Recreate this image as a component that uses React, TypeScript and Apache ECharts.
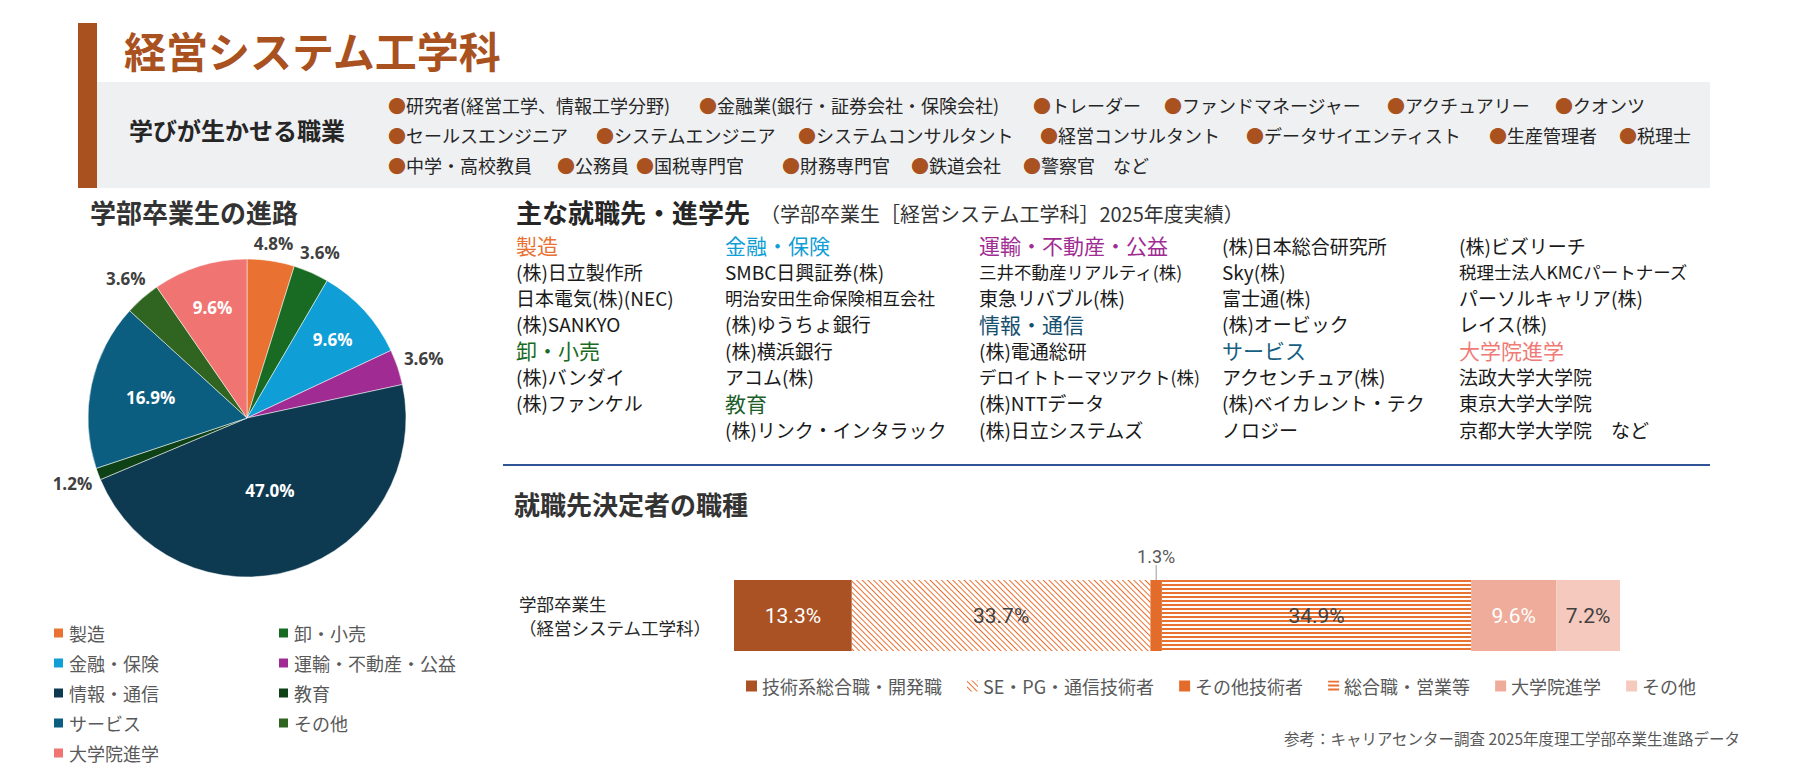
import React, { useEffect, useRef } from 'react';
import * as echarts from 'echarts';

const JP = "'Noto Sans CJK JP', sans-serif";
const NUM = "'Liberation Sans Narrow', Roboto, sans-serif";

// header
const deptTitle = '経営システム工学科';
const occLabel = '学びが生かせる職業';
const occRow1 = ['研究者(経営工学、情報工学分野)', '金融業(銀行・証券会社・保険会社)', 'トレーダー', 'ファンドマネージャー', 'アクチュアリー', 'クオンツ'];
const occRow2 = ['セールスエンジニア', 'システムエンジニア', 'システムコンサルタント', '経営コンサルタント', 'データサイエンティスト', '生産管理者', '税理士'];
const occRow3 = ['中学・高校教員', '公務員', '国税専門官', '財務専門官', '鉄道会社', '警察官　など'];

// pie: 学部卒業生の進路 (clockwise from top)
const pieNames = ['製造', '卸・小売', '金融・保険', '運輸・不動産・公益', '情報・通信', '教育', 'サービス', 'その他', '大学院進学'];
const pieValues = [4.8, 3.6, 9.6, 3.6, 47.0, 1.2, 16.9, 3.6, 9.6];
const pieColors = ['#E97132', '#196B24', '#0F9ED5', '#A02B93', '#0E3A51', '#0F4116', '#0B5E80', '#2F6520', '#F07572'];
const pieLegendLeft = ['製造', '金融・保険', '情報・通信', 'サービス', '大学院進学'];
const pieLegendRight = ['卸・小売', '運輸・不動産・公益', '教育', 'その他'];

// company lists
const col1 = ['製造', '(株)日立製作所', '日本電気(株)(NEC)', '(株)SANKYO', '卸・小売', '(株)バンダイ', '(株)ファンケル'];
const col2 = ['金融・保険', 'SMBC日興証券(株)', '明治安田生命保険相互会社', '(株)ゆうちょ銀行', '(株)横浜銀行', 'アコム(株)', '教育', '(株)リンク・インタラック'];
const col3 = ['運輸・不動産・公益', '三井不動産リアルティ(株)', '東急リバブル(株)', '情報・通信', '(株)電通総研', 'デロイトトーマツアクト(株)', '(株)NTTデータ', '(株)日立システムズ'];
const col4 = ['(株)日本総合研究所', 'Sky(株)', '富士通(株)', '(株)オービック', 'サービス', 'アクセンチュア(株)', '(株)ベイカレント・テク', 'ノロジー'];
const col5 = ['(株)ビズリーチ', '税理士法人KMCパートナーズ', 'パーソルキャリア(株)', 'レイス(株)', '大学院進学', '法政大学大学院', '東京大学大学院', '京都大学大学院　など'];
const headColors: Record<string, string> = {
  '製造': '#E97132', '卸・小売': '#196B24', '金融・保険': '#0F9ED5', '教育': '#215E2A',
  '運輸・不動産・公益': '#A02B93', '情報・通信': '#17506E', 'サービス': '#156082', '大学院進学': '#F07A76',
};
const smallItems = ['明治安田生命保険相互会社', '三井不動産リアルティ(株)', 'デロイトトーマツアクト(株)', '税理士法人KMCパートナーズ'];

// bar: 就職先決定者の職種
const barCategory = ['学部卒業生\n（経営システム工学科）'];
const barNames = ['技術系総合職・開発職', 'SE・PG・通信技術者', 'その他技術者', '総合職・営業等', '大学院進学#bar', 'その他#bar'];
const barValues = [13.3, 33.7, 1.3, 34.9, 9.6, 7.2];

const sourceNote = '参考：キャリアセンター調査 2025年度理工学部卒業生進路データ';

// layout
const CX = 247, CY = 418, R = 159;
const occX = [[388, 699, 1033, 1164, 1387, 1555], [388, 596, 798, 1040, 1246, 1489, 1619], [388, 557, 636, 782, 911, 1023]];
const occY = [105, 135, 165];
const colX = [516, 725, 979, 1222, 1459];

export default function App() {
  const ref = useRef<HTMLDivElement>(null);

  useEffect(() => {
    if (!ref.current) return;
    document.body.style.margin = '0';
    const chart = echarts.init(ref.current, null, { renderer: 'svg' });

    const total = pieValues.reduce((a, b) => a + b, 0);
    let cum = 0;
    const mid = pieValues.map((v) => {
      const m = ((cum + v / 2) / total) * Math.PI * 2;
      cum += v;
      return m;
    });

    const graphics: any[] = [
      { type: 'rect', shape: { x: 97, y: 82, width: 1613, height: 106 }, style: { fill: '#EFF0F2' } },
      { type: 'rect', shape: { x: 78, y: 23, width: 19, height: 165 }, style: { fill: '#A9521F' } },
      { type: 'text', x: 124, y: 49, style: { text: deptTitle, fill: '#A9521F', fontSize: 42, fontWeight: 'bold', fontFamily: JP, verticalAlign: 'middle' } },
      { type: 'text', x: 129, y: 129, style: { text: occLabel, fill: '#262626', fontSize: 24, fontWeight: 'bold', fontFamily: JP, verticalAlign: 'middle' } },
      { type: 'text', x: 90, y: 211, style: { text: '学部卒業生の進路', fill: '#333', fontSize: 26, fontWeight: 'bold', fontFamily: JP, verticalAlign: 'middle' } },
      { type: 'text', x: 516, y: 211, style: { text: '主な就職先・進学先', fill: '#262626', fontSize: 26, fontWeight: 'bold', fontFamily: JP, verticalAlign: 'middle' } },
      { type: 'text', x: 760, y: 213, style: { text: '（学部卒業生［経営システム工学科］2025年度実績）', fill: '#333', fontSize: 20, fontFamily: JP, verticalAlign: 'middle' } },
      { type: 'line', shape: { x1: 503, y1: 465, x2: 1710, y2: 465 }, style: { stroke: '#2F5597', lineWidth: 2 } },
      { type: 'text', x: 514, y: 503, style: { text: '就職先決定者の職種', fill: '#333', fontSize: 26, fontWeight: 'bold', fontFamily: JP, verticalAlign: 'middle' } },
      { type: 'text', x: 1740, y: 738, style: { text: sourceNote, fill: '#595959', fontSize: 15.5, fontFamily: JP, align: 'right', verticalAlign: 'middle' } },
    ];

    [occRow1, occRow2, occRow3].forEach((row, r) => {
      row.forEach((t, i) => {
        graphics.push({
          type: 'text', x: occX[r][i], y: occY[r],
          style: {
            text: `{b|●}{t|${t}}`, verticalAlign: 'middle',
            rich: {
              b: { fill: '#A9521F', fontSize: 18, fontFamily: JP },
              t: { fill: '#262626', fontSize: 18, fontFamily: JP },
            },
          },
        });
      });
    });

    [col1, col2, col3, col4, col5].forEach((col, c) => {
      col.forEach((t, i) => {
        const head = headColors[t];
        const small = smallItems.includes(t);
        graphics.push({
          type: 'text', x: colX[c], y: 245 + 26.3 * i,
          style: {
            text: t, verticalAlign: 'middle', fontFamily: JP,
            fill: head || '#1A1A1A',
            fontSize: head ? 21 : small ? 17.5 : 19,
          },
        });
      });
    });

    const hatch = {
      symbol: 'rect', symbolSize: 1, dashArrayX: [1, 0], dashArrayY: [1, 2.5],
      rotation: Math.PI / 4, color: '#E97132',
    };
    const stripes = {
      symbol: 'rect', symbolSize: 1, dashArrayX: [1, 0], dashArrayY: [1.5, 1.5],
      rotation: 0, color: '#E97132',
    };
    const barStyles = [
      { color: '#AA5223' },
      { color: '#FFFFFF', decal: hatch },
      { color: '#E46C2A' },
      { color: '#FFFFFF', decal: stripes },
      { color: '#EFAC9A' },
      { color: '#F5C9BD' },
    ];
    const barLabelColors = ['#FFFFFF', '#404040', '#595959', '#404040', '#FFFFFF', '#404040'];

    const legendText = { fontSize: 18, color: '#595959', fontFamily: JP, lineHeight: 20 };

    const option: any = {
      animation: false,
      graphic: graphics,
      legend: [
        {
          data: pieLegendLeft, orient: 'vertical', left: 52, top: 623, padding: 0,
          icon: 'rect', itemWidth: 11, itemHeight: 11, itemGap: 10, textStyle: legendText,
          selectedMode: false,
        },
        {
          data: pieLegendRight, orient: 'vertical', left: 277, top: 623, padding: 0,
          icon: 'rect', itemWidth: 11, itemHeight: 11, itemGap: 10, textStyle: legendText,
          selectedMode: false,
        },
        {
          data: barNames, orient: 'horizontal', left: 746, top: 676, padding: 0,
          icon: 'rect', itemWidth: 11, itemHeight: 11, itemGap: 25, textStyle: legendText,
          selectedMode: false,
          formatter: (n: string) => n.replace('#bar', ''),
        },
      ],
      grid: { left: 734, right: 176, top: 580, height: 71 },
      xAxis: { type: 'value', min: 0, max: 100, show: false },
      yAxis: {
        type: 'category', data: barCategory,
        axisLine: { show: false }, axisTick: { show: false },
        axisLabel: {
          margin: 215, align: 'left', fontSize: 17.5, color: '#262626', fontFamily: JP,
          lineHeight: 24, padding: [18, 0, 0, 0],
        },
      },
      series: [
        {
          type: 'pie',
          center: [CX, CY],
          radius: R,
          startAngle: 90,
          clockwise: true,
          itemStyle: { borderColor: '#fff', borderWidth: 0.5 },
          labelLine: { show: false, length: 10, length2: 0 },
          label: { fontSize: 17, fontWeight: 'bold', fontFamily: "'Open Sans', sans-serif" },
          labelLayout: (p: any) => {
            const i = p.dataIndex;
            const v = pieValues[i];
            const a = mid[i];
            const w = p.labelRect.width, h = p.labelRect.height;
            let d;
            if (v >= 40) d = R * 0.48;
            else if (v >= 12) d = R * 0.62;
            else if (v >= 9) d = R * 0.73;
            else d = R + 6 + Math.abs(Math.sin(a)) * w / 2 + Math.abs(Math.cos(a)) * h / 2;
            return { x: CX + d * Math.sin(a), y: CY - d * Math.cos(a), align: 'center', verticalAlign: 'middle' };
          },
          data: pieNames.map((n, i) => ({
            name: n,
            value: pieValues[i],
            itemStyle: { color: pieColors[i] },
            label: {
              show: true,
              position: pieValues[i] >= 9 ? 'inside' : 'outside',
              color: pieValues[i] >= 9 ? '#fff' : '#404040',
              formatter: (p: any) => p.value.toFixed(1) + '%',
            },
          })),
        },
        ...barNames.map((n, i) => ({
          type: 'bar',
          name: n,
          stack: 'total',
          barWidth: '100%',
          data: [barValues[i]],
          itemStyle: barStyles[i],
          label: {
            show: true,
            position: i === 2 ? 'top' : 'inside',
            distance: 4,
            color: barLabelColors[i],
            fontSize: i === 2 ? 18 : 21,
            fontFamily: NUM,
            formatter: (p: any) => p.value.toFixed(1) + '%',
          },
          labelLine: i === 2 ? { show: true, lineStyle: { color: '#999', width: 1 } } : undefined,
          labelLayout: i === 2 ? { dy: -11 } : undefined,
        })),
      ],
    };

    chart.setOption(option);
    return () => chart.dispose();
  }, []);

  return <div ref={ref} style={{ width: 1796, height: 778 }} />;
}
